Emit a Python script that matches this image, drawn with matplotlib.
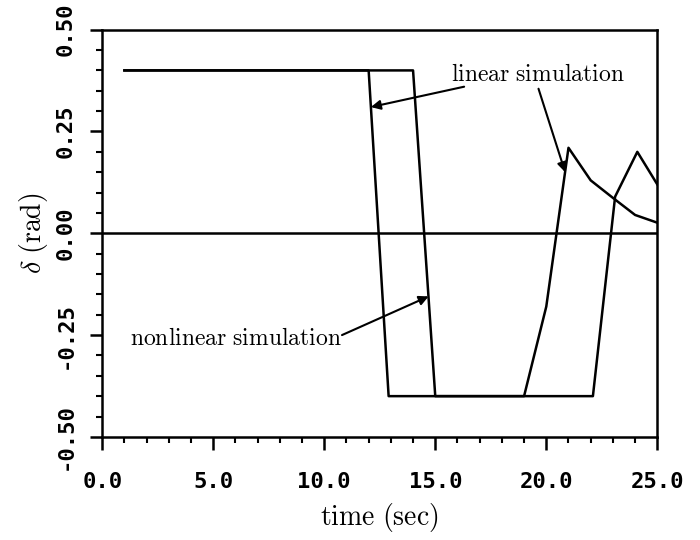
import matplotlib
matplotlib.use("Agg")
import matplotlib.pyplot as plt
from matplotlib.ticker import MultipleLocator, FormatStrFormatter

# values
t_linear = [1.0, 12.0, 12.9, 19.0, 20.0, 21.0, 22.0, 23.0, 24.0, 25.0]
d_linear = [0.40, 0.40, -0.40, -0.40, -0.18, 0.21, 0.13, 0.087, 0.045, 0.026]

t_nonlinear = [1.0, 14.0, 15.0, 22.1, 23.1, 24.1, 25.0]
d_nonlinear = [0.40, 0.40, -0.40, -0.40, 0.09, 0.20, 0.12]

x_ticks = [0.0, 5.0, 10.0, 15.0, 20.0, 25.0]
y_ticks = [-0.50, -0.25, 0.00, 0.25, 0.50]

plt.rcParams['mathtext.fontset'] = 'cm'

fig = plt.figure(figsize=(7, 5.4), dpi=100)
ax = fig.add_axes([0.146, 0.191, 0.793, 0.754])

ax.plot(t_linear, d_linear, color='black', lw=1.8)
ax.plot(t_nonlinear, d_nonlinear, color='black', lw=1.8)
ax.axhline(0.0, color='black', lw=1.8)

ax.set_xlim(0, 25)
ax.set_ylim(-0.5, 0.5)
ax.set_xticks(x_ticks)
ax.set_yticks(y_ticks)
ax.xaxis.set_minor_locator(MultipleLocator(1.0))
ax.yaxis.set_minor_locator(MultipleLocator(0.05))
ax.xaxis.set_major_formatter(FormatStrFormatter('%.1f'))
ax.yaxis.set_major_formatter(FormatStrFormatter('%.2f'))

for s in ax.spines.values():
    s.set_linewidth(1.8)

ax.tick_params(axis='x', which='major', direction='out', length=9, width=1.8, pad=16)
ax.tick_params(axis='y', which='major', direction='out', length=9, width=1.8, pad=10)
ax.tick_params(which='minor', direction='out', length=4.5, width=1.5)
for lab in ax.get_xticklabels() + ax.get_yticklabels():
    lab.set_family('DejaVu Sans Mono')
    lab.set_fontsize(16)
    lab.set_fontweight('bold')
for lab in ax.get_yticklabels():
    lab.set_rotation(90)
    lab.set_va('center')

ax.set_xlabel(r'$\mathrm{time\ (sec)}$', fontsize=20, labelpad=7)
ax.set_ylabel(r'$\delta\ \mathrm{(rad)}$', fontsize=20, labelpad=4)

arrow = dict(arrowstyle='-|>', color='black', lw=1.5, mutation_scale=14, shrinkA=0, shrinkB=0)
ax.text(19.6, 0.39, r'$\mathrm{linear\ simulation}$', fontsize=17, ha='center', va='center')
ax.annotate('', xy=(12.1, 0.31), xytext=(16.3, 0.36), arrowprops=arrow)
ax.annotate('', xy=(20.85, 0.15), xytext=(19.65, 0.355), arrowprops=arrow)

ax.text(6.0, -0.256, r'$\mathrm{nonlinear\ simulation}$', fontsize=17, ha='center', va='center')
ax.annotate('', xy=(14.7, -0.155), xytext=(10.8, -0.25), arrowprops=arrow)

fig.savefig('out.png', dpi=100)
